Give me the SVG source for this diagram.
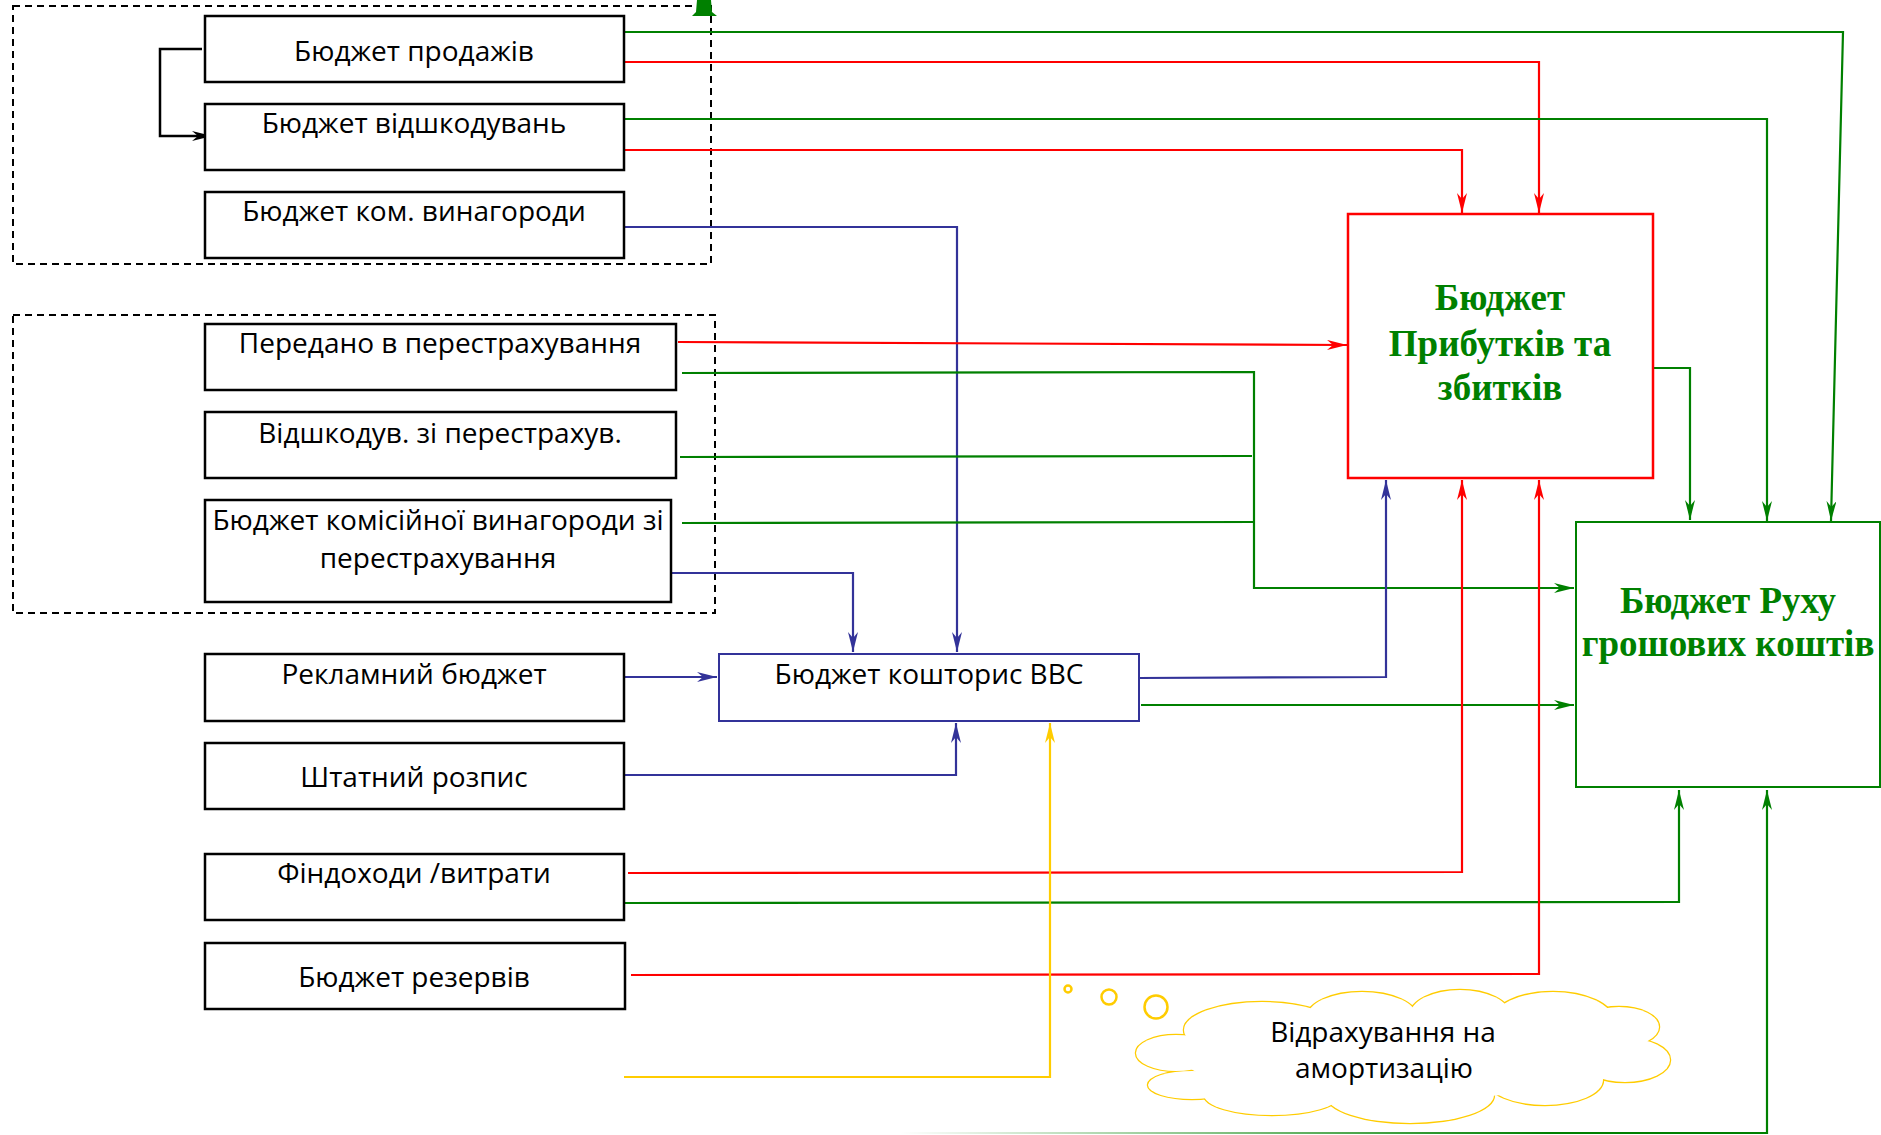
<svg xmlns="http://www.w3.org/2000/svg" width="1881" height="1135" viewBox="0 0 1881 1135">
<style>
.box{fill:#fff;stroke:#000;stroke-width:2.5}
.dash{fill:none;stroke:#000;stroke-width:2;stroke-dasharray:7 5}
.t{font-family:"Open Sans","Noto Sans","DejaVu Sans",sans-serif;font-size:28px;fill:#000;text-anchor:middle}
.big{font-family:"Liberation Serif","Times New Roman",serif;font-weight:bold;font-size:37px;fill:#008000;text-anchor:middle}
.r{fill:none;stroke:#ff0000;stroke-width:2.2}
.g{fill:none;stroke:#008000;stroke-width:2.2}
.b{fill:none;stroke:#333399;stroke-width:2.2}
.y{fill:none;stroke:#ffcc00;stroke-width:2.2}
.k{fill:none;stroke:#000;stroke-width:2.5}
</style>
<defs>
<marker id="ar" viewBox="0 0 20 10" refX="20" refY="5" markerWidth="20" markerHeight="10" markerUnits="userSpaceOnUse" orient="auto"><path d="M0,0 L20,5 L0,10 L6,5 z" fill="#ff0000"/></marker>
<marker id="ag" viewBox="0 0 20 10" refX="20" refY="5" markerWidth="20" markerHeight="10" markerUnits="userSpaceOnUse" orient="auto"><path d="M0,0 L20,5 L0,10 L6,5 z" fill="#008000"/></marker>
<marker id="ab" viewBox="0 0 20 10" refX="20" refY="5" markerWidth="20" markerHeight="10" markerUnits="userSpaceOnUse" orient="auto"><path d="M0,0 L20,5 L0,10 L6,5 z" fill="#333399"/></marker>
<marker id="ay" viewBox="0 0 20 10" refX="20" refY="5" markerWidth="20" markerHeight="10" markerUnits="userSpaceOnUse" orient="auto"><path d="M0,0 L20,5 L0,10 L6,5 z" fill="#ffcc00"/></marker>
<marker id="ak" viewBox="0 0 20 10" refX="20" refY="5" markerWidth="20" markerHeight="10" markerUnits="userSpaceOnUse" orient="auto"><path d="M0,0 L20,5 L0,10 L6,5 z" fill="#000"/></marker>
<linearGradient id="fade" gradientUnits="userSpaceOnUse" x1="900" y1="0" x2="1550" y2="0">
<stop offset="0" stop-color="#008000" stop-opacity="0"/>
<stop offset="1" stop-color="#008000" stop-opacity="1"/>
</linearGradient>
</defs>

<g id="groups">
<rect class="dash" x="13" y="6" width="698" height="258"/>
<rect class="dash" x="13" y="315" width="702" height="298"/>
<path d="M697,0 L711,0 L712,12 L717,16 L692,16 L696,12 Z" fill="#008000"/>
</g>

<g id="connectors">
<path class="k" d="M202,49 L160,49 L160,136 L212,136" marker-end="url(#ak)"/>
<path class="g" d="M624,32 L1843,32 L1831,521" marker-end="url(#ag)"/>
<path class="r" d="M624,62 L1539,62 L1539,213" marker-end="url(#ar)"/>
<path class="g" d="M624,119 L1767,119 L1767,521" marker-end="url(#ag)"/>
<path class="r" d="M624,150 L1462,150 L1462,213" marker-end="url(#ar)"/>
<path class="b" d="M624,227 L957,227 L957,652" marker-end="url(#ab)"/>
<path class="r" d="M678,342 L1347,345" marker-end="url(#ar)"/>
<path class="g" d="M682,373 L1254,372 L1254,588 L1574,588" marker-end="url(#ag)"/>
<path class="g" d="M680,457 L1252,456"/>
<path class="g" d="M682,523 L1254,522"/>
<path class="b" d="M667,573 L853,573 L853,652" marker-end="url(#ab)"/>
<path class="g" d="M1653,368 L1690,368 L1690,520" marker-end="url(#ag)"/>
<path class="b" d="M624,677 L717,677" marker-end="url(#ab)"/>
<path class="b" d="M1139,678 L1386,677 L1386,480" marker-end="url(#ab)"/>
<path class="g" d="M1141,705 L1574,705" marker-end="url(#ag)"/>
<path class="b" d="M624,775 L956,775 L956,723" marker-end="url(#ab)"/>
<path class="r" d="M628,873 L1462,872 L1462,480" marker-end="url(#ar)"/>
<path class="g" d="M624,903 L1679,902 L1679,790" marker-end="url(#ag)"/>
<path class="r" d="M631,975 L1539,974 L1539,480" marker-end="url(#ar)"/>
<path class="y" d="M624,1077 L1050,1077 L1050,723" marker-end="url(#ay)"/>
<path d="M900,1133 L1767,1133" fill="none" stroke="url(#fade)" stroke-width="2.2"/>
<path class="g" d="M1550,1133 L1767,1133 L1767,790" marker-end="url(#ag)"/>
</g>

<g id="n1"><rect class="box" x="205" y="16" width="419" height="66"/><text class="t" x="414" y="61">Бюджет продажів</text></g>
<g id="n2"><rect class="box" x="205" y="104" width="419" height="66"/><text class="t" x="414" y="133">Бюджет відшкодувань</text></g>
<g id="n3"><rect class="box" x="205" y="192" width="419" height="66"/><text class="t" x="414" y="221">Бюджет ком. винагороди</text></g>
<g id="n4"><rect class="box" x="205" y="324" width="471" height="66"/><text class="t" x="440" y="353">Передано в перестрахування</text></g>
<g id="n5"><rect class="box" x="205" y="412" width="471" height="66"/><text class="t" x="440" y="443">Відшкодув. зі перестрахув.</text></g>
<g id="n6"><rect class="box" x="205" y="500" width="466" height="102"/><text class="t" x="438" y="530">Бюджет комісійної винагороди зі</text><text class="t" x="438" y="568">перестрахування</text></g>
<g id="n7"><rect class="box" x="205" y="654" width="419" height="67"/><text class="t" x="414" y="684">Рекламний бюджет</text></g>
<g id="n8"><rect class="box" x="205" y="743" width="419" height="66"/><text class="t" x="414" y="787">Штатний розпис</text></g>
<g id="n9"><rect class="box" x="205" y="854" width="419" height="66"/><text class="t" x="414" y="883">Фіндоходи /витрати</text></g>
<g id="n10"><rect class="box" x="205" y="943" width="420" height="66"/><text class="t" x="414" y="987">Бюджет резервів</text></g>

<g id="vvs"><rect x="719" y="654" width="420" height="67" fill="#fff" stroke="#333399" stroke-width="2"/><text class="t" x="929" y="684">Бюджет кошторис ВВС</text></g>

<g id="pnl"><rect x="1348" y="214" width="305" height="264" fill="#fff" stroke="#ff0000" stroke-width="2.5"/>
<text class="big" x="1500" y="310">Бюджет</text><text class="big" x="1500" y="356">Прибутків та</text><text class="big" x="1500" y="400">збитків</text></g>

<g id="cash"><rect x="1576" y="522" width="304" height="265" fill="#fff" stroke="#008000" stroke-width="2"/>
<text class="big" x="1728" y="613">Бюджет Руху</text><text class="big" x="1728" y="656">грошових коштів</text></g>

<g id="cloud">
<g fill="none" stroke="#ffcc00" stroke-width="2.5">
<circle cx="1068" cy="989" r="3.5"/>
<circle cx="1109" cy="997" r="7.5"/>
<circle cx="1156" cy="1007" r="11.5"/>
<ellipse cx="1262" cy="1030" rx="78" ry="28"/>
<ellipse cx="1176" cy="1053" rx="40" ry="18"/>
<ellipse cx="1192" cy="1085" rx="44" ry="14"/>
<ellipse cx="1272" cy="1095" rx="68" ry="20"/>
<ellipse cx="1410" cy="1095" rx="84" ry="28"/>
<ellipse cx="1545" cy="1080" rx="58" ry="25"/>
<ellipse cx="1625" cy="1060" rx="45" ry="22"/>
<ellipse cx="1619" cy="1027" rx="40" ry="20"/>
<ellipse cx="1553" cy="1020" rx="60" ry="28"/>
<ellipse cx="1460" cy="1015" rx="50" ry="25"/>
<ellipse cx="1362" cy="1017" rx="55" ry="25"/>
</g>
<g fill="#fff">
<ellipse cx="1262" cy="1030" rx="78" ry="28"/>
<ellipse cx="1176" cy="1053" rx="40" ry="18"/>
<ellipse cx="1192" cy="1085" rx="44" ry="14"/>
<ellipse cx="1272" cy="1095" rx="68" ry="20"/>
<ellipse cx="1410" cy="1095" rx="84" ry="28"/>
<ellipse cx="1545" cy="1080" rx="58" ry="25"/>
<ellipse cx="1625" cy="1060" rx="45" ry="22"/>
<ellipse cx="1619" cy="1027" rx="40" ry="20"/>
<ellipse cx="1553" cy="1020" rx="60" ry="28"/>
<ellipse cx="1460" cy="1015" rx="50" ry="25"/>
<ellipse cx="1362" cy="1017" rx="55" ry="25"/>
<ellipse cx="1400" cy="1055" rx="220" ry="45"/>
</g>
<text class="t" x="1383" y="1042">Відрахування на</text>
<text class="t" x="1384" y="1078">амортизацію</text>
</g>
</svg>
